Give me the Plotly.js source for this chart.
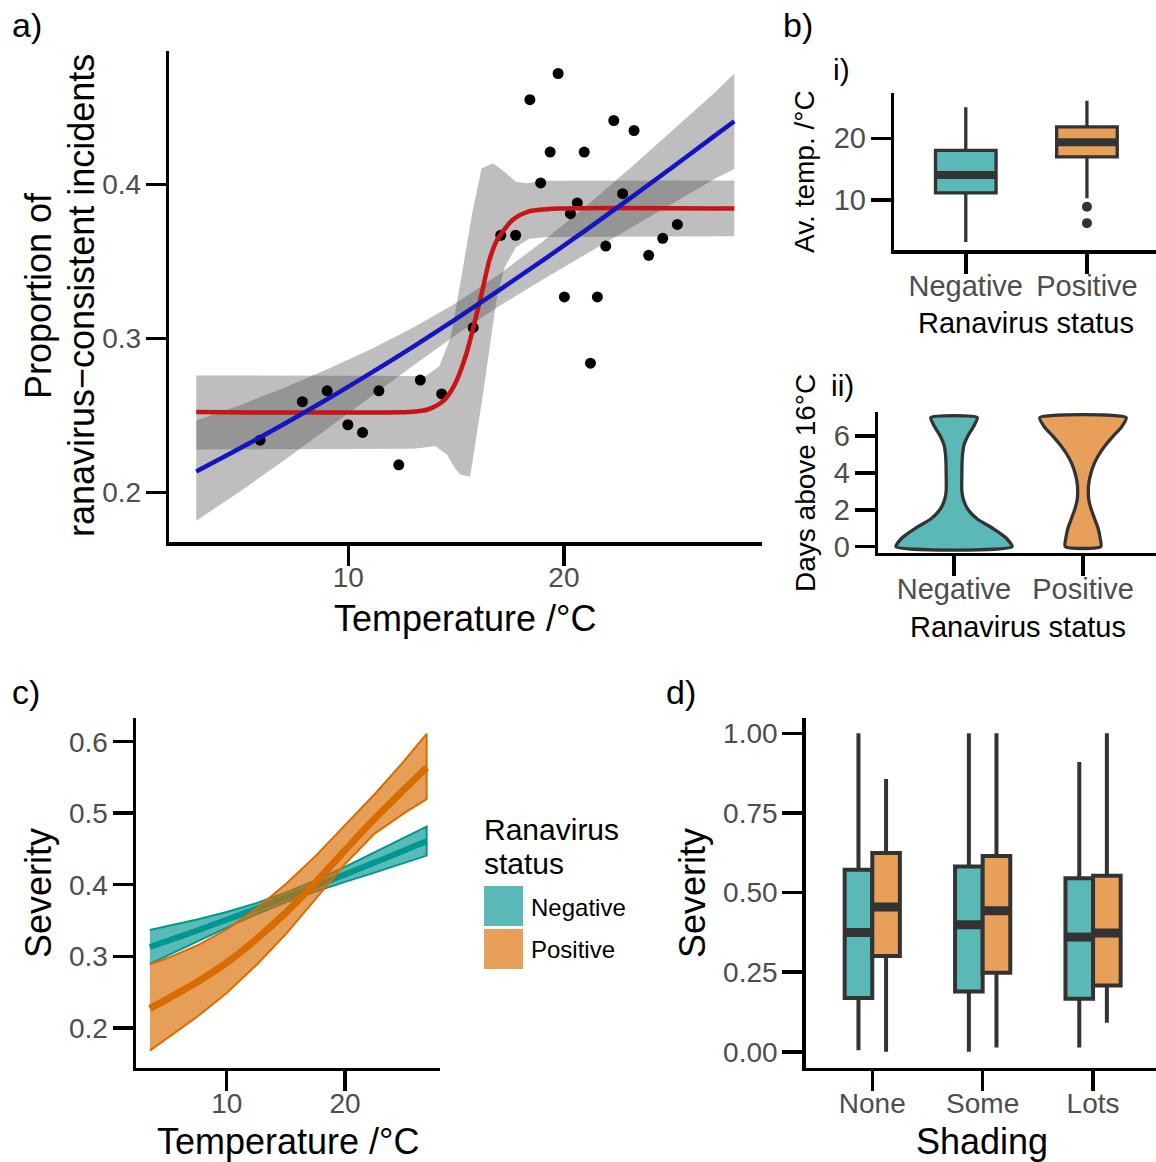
<!DOCTYPE html>
<html>
<head>
<meta charset="utf-8">
<script src="https://cdn.plot.ly/plotly-3.0.1.min.js"></script>
<style>html,body{margin:0;padding:0;background:#fff;}#chart{width:1156px;height:1162px;}</style>
</head>
<body>
<div id="chart"></div>
<script>
// ---------------- DATA ----------------
// a) observed proportions
const tempObs = [5.91, 7.87, 9.02, 9.98, 10.66, 11.42, 12.34, 13.34, 14.33, 15.79, 17.07, 17.76, 18.42, 19.73, 19.36, 18.92, 20.62, 20.30, 20.94, 22.31, 23.25, 22.72, 21.94, 20.02, 21.55, 21.23, 23.93, 24.58, 25.26];
const propObs = [0.234, 0.259, 0.266, 0.244, 0.239, 0.266, 0.218, 0.273, 0.264, 0.307, 0.367, 0.367, 0.455, 0.472, 0.421, 0.401, 0.388, 0.381, 0.421, 0.4415, 0.435, 0.394, 0.360, 0.327, 0.327, 0.284, 0.354, 0.365, 0.374];
// a) linear (logistic) fit
const fitX = [2.95, 5, 7, 9, 11, 13, 15, 17, 19, 21, 23, 25, 27, 27.9];
const linFit = [0.2137, 0.2289, 0.2443, 0.2604, 0.2772, 0.2946, 0.3127, 0.3314, 0.3505, 0.3702, 0.3903, 0.4108, 0.4317, 0.4410];
const linUpper = [0.2467, 0.2569, 0.2679, 0.2798, 0.2927, 0.3069, 0.3230, 0.3417, 0.3628, 0.3857, 0.4097, 0.4344, 0.4597, 0.4720];
const linLower = [0.1817, 0.2009, 0.2207, 0.2410, 0.2617, 0.2823, 0.3024, 0.3211, 0.3382, 0.3547, 0.3709, 0.3872, 0.4037, 0.4100];
// a) step (threshold) fit
const stepX = [2.95, 13.0, 13.69, 14.40, 14.94, 15.47, 15.79, 16.18, 16.54, 16.89, 17.60, 18.31, 19.73, 27.9];
const stepFit = [0.2522, 0.2525, 0.2539, 0.2593, 0.2702, 0.2898, 0.3067, 0.3289, 0.3507, 0.3637, 0.3767, 0.3822, 0.3843, 0.3843];
const stepUpX = [2.95, 13.6, 14.23, 14.76, 15.29, 15.74, 16.18, 16.71, 17.25, 17.78, 18.3, 19.0, 27.9];
const stepUp = [0.2760, 0.2757, 0.2822, 0.3015, 0.3435, 0.3810, 0.4104, 0.4137, 0.4080, 0.4017, 0.4007, 0.4024, 0.4025];
const stepLoX = [2.95, 13.0, 14.05, 14.58, 14.94, 15.2, 15.65, 15.9, 16.27, 16.54, 16.89, 17.25, 17.78, 18.4, 19.2, 27.9];
const stepLo = [0.2280, 0.2285, 0.2300, 0.2246, 0.2160, 0.2115, 0.2104, 0.2330, 0.2660, 0.2920, 0.3267, 0.3463, 0.3593, 0.3648, 0.3659, 0.3663];

// b) categories
const statusCats = ['Negative', 'Positive'];
// b-i) average temperature boxes
const tempQ1 = [11.15, 17.0];
const tempMed = [14.05, 19.35];
const tempQ3 = [18.05, 21.85];
const tempLo = [3.2, 10.3];
const tempHi = [25.05, 26.1];
const tempOutCat = ['Positive', 'Positive'];
const tempOut = [8.9, 6.25];
// b-ii) days above 16 C violins (density half-widths)
const daysY = [0, 0.5, 1, 1.5, 2, 2.5, 3, 3.5, 4, 4.5, 5, 5.5, 6, 6.5, 7];
const daysNegDens = [0.45, 0.40, 0.30, 0.18, 0.11, 0.075, 0.061, 0.060, 0.061, 0.062, 0.066, 0.077, 0.107, 0.15, 0.18];
const daysPosDens = [0.138, 0.132, 0.117, 0.091, 0.065, 0.046, 0.041, 0.046, 0.062, 0.087, 0.124, 0.174, 0.234, 0.30, 0.335];

// c) severity vs temperature
const sevTemp = [3.5, 5, 7.5, 10, 12.5, 15, 17.5, 20, 22.5, 25, 26.9];
const negFit = [0.3130, 0.3215, 0.3360, 0.3510, 0.3665, 0.3822, 0.3982, 0.4145, 0.4310, 0.4478, 0.4610];
const negUpper = [0.3367, 0.3420, 0.3515, 0.3620, 0.3743, 0.3890, 0.4060, 0.4250, 0.4450, 0.4656, 0.4813];
const negLower = [0.2893, 0.3010, 0.3205, 0.3400, 0.3587, 0.3754, 0.3904, 0.4040, 0.4170, 0.4300, 0.4407];
const posFit = [0.2270, 0.2405, 0.2640, 0.2910, 0.3240, 0.3610, 0.4030, 0.4480, 0.4925, 0.5330, 0.5640];
const posUpper = [0.2886, 0.2975, 0.3150, 0.3375, 0.3665, 0.4010, 0.4400, 0.4825, 0.5265, 0.5730, 0.6110];
const posLower = [0.1680, 0.1855, 0.2155, 0.2485, 0.2875, 0.3310, 0.3800, 0.4290, 0.4715, 0.5000, 0.5196];

// d) severity by shading
const shadeCats = ['None', 'Some', 'Lots'];
const negQ1 = [0.1686, 0.1895, 0.1665];
const negMed = [0.3743, 0.3990, 0.3602];
const negQ3 = [0.5717, 0.5820, 0.5445];
const negLo = [0.005, 0.000, 0.0136];
const negHi = [1.000, 1.000, 0.910];
const posQ1 = [0.3005, 0.2482, 0.2084];
const posMed = [0.4545, 0.4429, 0.3728];
const posQ3 = [0.6240, 0.6147, 0.5529];
const posLo = [0.000, 0.0136, 0.091];
const posHi = [0.8565, 1.000, 1.000];

// ---------------- STYLE ----------------
const W = 1156, H = 1162;
const FONT = 'Liberation Sans, Arial, Helvetica, sans-serif';
const TEAL_FILL = '#5ab9b6', ORANGE_FILL = '#e89f5a';
const TEAL = 'rgb(0,150,145)', ORANGE = 'rgb(217,108,0)';
const DARK = '#333333';
const px = v => v / W;
const py = v => 1 - v / H;

function ax(o, isX, fs) {
  return Object.assign({
    showline: true, linecolor: 'black', linewidth: 3.5,
    ticks: 'outside', ticklen: 20, tickwidth: 3.5, tickcolor: 'black',
    showgrid: false, zeroline: false, fixedrange: true,
    tickfont: {family: FONT, size: fs || 28, color: '#4d4d4d'},
    ticklabelstandoff: isX ? -12 : -1
  }, o);
}

const traces = [];
function ribbon(xu, yu, xl, yl, fill, xa, ya, lineColor, lw) {
  traces.push({
    type: 'scatter', mode: 'lines',
    x: xu.concat(xl.slice().reverse()), y: yu.concat(yl.slice().reverse()),
    fill: 'toself', fillcolor: fill,
    line: {width: lw || 0, color: lineColor || 'rgba(0,0,0,0)'},
    xaxis: xa, yaxis: ya, hoverinfo: 'skip', showlegend: false
  });
}

// ----- panel a -----
ribbon(fitX, linUpper, fitX, linLower, 'rgba(80,80,80,0.37)', 'x', 'y');
ribbon(stepUpX, stepUp, stepLoX, stepLo, 'rgba(80,80,80,0.37)', 'x', 'y');
traces.push({type: 'scatter', mode: 'markers', x: tempObs, y: propObs,
  marker: {size: 11, color: 'black'}, xaxis: 'x', yaxis: 'y', showlegend: false});
traces.push({type: 'scatter', mode: 'lines', x: stepX, y: stepFit,
  line: {color: '#c81414', width: 4.5, shape: 'spline', smoothing: 0.7}, xaxis: 'x', yaxis: 'y', showlegend: false});
traces.push({type: 'scatter', mode: 'lines', x: fitX, y: linFit,
  line: {color: '#1414c0', width: 4.5, shape: 'spline'}, xaxis: 'x', yaxis: 'y', showlegend: false});

// ----- panel b-i -----
const bFills = [TEAL_FILL, ORANGE_FILL];
statusCats.forEach((c, i) => {
  traces.push({type: 'box', x: [i], q1: [tempQ1[i]], median: [tempMed[i]], q3: [tempQ3[i]],
    lowerfence: [tempLo[i]], upperfence: [tempHi[i]], width: 0.5, whiskerwidth: 0,
    fillcolor: bFills[i], line: {color: DARK, width: 3.3}, boxpoints: false,
    xaxis: 'x2', yaxis: 'y2', showlegend: false, hoverinfo: 'skip'});
  traces.push({type: 'scatter', mode: 'lines', x: [i - 0.25, i + 0.25], y: [tempMed[i], tempMed[i]],
    line: {color: DARK, width: 8}, xaxis: 'x2', yaxis: 'y2', showlegend: false});
});
traces.push({type: 'scatter', mode: 'markers', x: tempOutCat.map(c => statusCats.indexOf(c)), y: tempOut,
  marker: {size: 10, color: DARK}, xaxis: 'x2', yaxis: 'y2', showlegend: false});

// ----- panel b-ii -----
[daysNegDens, daysPosDens].forEach((dens, i) => {
  const xs = daysY.map((y, k) => i + dens[k]).concat(daysY.map((y, k) => i - dens[k]).reverse());
  const ys = daysY.concat(daysY.slice().reverse());
  xs.push(xs[0]); ys.push(ys[0]);
  traces.push({type: 'scatter', mode: 'lines', x: xs, y: ys, fill: 'toself', fillcolor: bFills[i],
    line: {color: DARK, width: 3.3, shape: 'spline', smoothing: 0.6},
    xaxis: 'x3', yaxis: 'y3', showlegend: false, hoverinfo: 'skip'});
});

// ----- panel c -----
ribbon(sevTemp, negUpper, sevTemp, negLower, 'rgba(0,150,145,0.65)', 'x4', 'y4', TEAL, 2);
traces.push({type: 'scatter', mode: 'lines', x: sevTemp, y: negFit,
  line: {color: TEAL, width: 6, shape: 'spline'}, xaxis: 'x4', yaxis: 'y4', showlegend: false});
ribbon(sevTemp, posUpper, sevTemp, posLower, 'rgba(217,108,0,0.65)', 'x4', 'y4', ORANGE, 2);
traces.push({type: 'scatter', mode: 'lines', x: sevTemp, y: posFit,
  line: {color: ORANGE, width: 7, shape: 'spline'}, xaxis: 'x4', yaxis: 'y4', showlegend: false});

// ----- panel d -----
const dodge = 0.125, bw = 0.25;
[[negQ1, negMed, negQ3, negLo, negHi, -dodge, TEAL_FILL], [posQ1, posMed, posQ3, posLo, posHi, dodge, ORANGE_FILL]]
  .forEach(([q1, md, q3, lo, hi, off, fc]) => {
    const xs = shadeCats.map((c, i) => i + off);
    traces.push({type: 'box', x: xs, q1: q1, median: md, q3: q3, lowerfence: lo, upperfence: hi,
      width: bw, whiskerwidth: 0, fillcolor: fc, line: {color: DARK, width: 4}, boxpoints: false,
      xaxis: 'x5', yaxis: 'y5', showlegend: false, hoverinfo: 'skip'});
    const mx = [], my = [];
    xs.forEach((x, i) => { mx.push(x - bw / 2, x + bw / 2, null); my.push(md[i], md[i], null); });
    traces.push({type: 'scatter', mode: 'lines', x: mx, y: my, line: {color: DARK, width: 9},
      xaxis: 'x5', yaxis: 'y5', showlegend: false, connectgaps: false});
  });

// ---------------- ANNOTATIONS ----------------
function ann(text, x, y, size, o) {
  return Object.assign({text: text, x: px(x), y: py(y), xref: 'paper', yref: 'paper',
    xanchor: 'center', yanchor: 'middle', showarrow: false,
    font: {family: FONT, size: size, color: 'black'}}, o || {});
}
const annotations = [
  ann('a)', 10, 25, 34, {xanchor: 'left'}),
  ann('b)', 781, 25, 34, {xanchor: 'left'}),
  ann('c)', 10, 692, 34, {xanchor: 'left'}),
  ann('d)', 664, 692, 34, {xanchor: 'left'}),
  ann('i)', 831, 70, 30, {xanchor: 'left'}),
  ann('ii)', 829, 386, 30, {xanchor: 'left'}),
  // panel a titles
  ann('Temperature /°C', 465, 618, 36),
  ann('Proportion of', 38, 296, 36, {textangle: -90}),
  ann('ranavirus−consistent incidents', 81, 296, 36, {textangle: -90}),
  // panel b titles
  ann('Av. temp. /°C', 805, 172, 28, {textangle: -90}),
  ann('Ranavirus status', 1026, 323, 29),
  ann('Days above 16°C', 805, 483, 28, {textangle: -90}),
  ann('Ranavirus status', 1018, 627, 29),
  // panel c titles
  ann('Severity', 38, 893, 36, {textangle: -90}),
  ann('Temperature /°C', 288, 1141, 36),
  // legend
  ann('Ranavirus', 482, 829, 30, {xanchor: 'left'}),
  ann('status', 482, 863, 30, {xanchor: 'left'}),
  ann(statusCats[0], 529, 907, 24, {xanchor: 'left'}),
  ann(statusCats[1], 529, 949, 24, {xanchor: 'left'}),
  // panel d titles
  ann('Severity', 692, 893, 36, {textangle: -90}),
  ann('Shading', 982, 1141, 36)
];
const shapes = [
  {type: 'rect', xref: 'paper', yref: 'paper', x0: px(484), x1: px(523), y0: py(926), y1: py(886),
    fillcolor: TEAL_FILL, line: {width: 0}},
  {type: 'rect', xref: 'paper', yref: 'paper', x0: px(484), x1: px(523), y0: py(969), y1: py(929),
    fillcolor: ORANGE_FILL, line: {width: 0}}
];

const layout = {
  width: W, height: H, margin: {l: 0, r: 0, t: 0, b: 0},
  paper_bgcolor: 'white', plot_bgcolor: 'white', showlegend: false, hovermode: false,
  font: {family: FONT},
  xaxis: ax({domain: [px(169.3), px(761.7)], range: [1.7, 29.17], tickvals: [10, 20], ticktext: ['10', '20'], anchor: 'y'}, true),
  yaxis: ax({domain: [py(542.3), py(50.7)], range: [0.1677, 0.4868], tickvals: [0.2, 0.3, 0.4], ticktext: ['0.2', '0.3', '0.4'], anchor: 'x'}, false),
  xaxis2: ax({domain: [px(894.3), 1], range: [-0.59, 1.57], tickvals: [0, 1], ticktext: statusCats, anchor: 'y2'}, true, 29),
  yaxis2: ax({domain: [py(250), py(93.3)], range: [1.9, 27.3], tickvals: [10, 20], ticktext: ['10', '20'], anchor: 'x2'}, false, 29),
  xaxis3: ax({domain: [px(878.3), 1], range: [-0.587, 1.566], tickvals: [0, 1], ticktext: statusCats, anchor: 'y3'}, true, 29),
  yaxis3: ax({domain: [py(552.7), py(411.7)], range: [-0.325, 7.32], tickvals: [0, 2, 4, 6], ticktext: ['0', '2', '4', '6'], anchor: 'x3'}, false, 29),
  xaxis4: ax({domain: [px(136), px(440)], range: [2.33, 28.03], tickvals: [10, 20], ticktext: ['10', '20'], anchor: 'y4'}, true),
  yaxis4: ax({domain: [py(1067.7), py(718.3)], range: [0.1442, 0.6327], tickvals: [0.2, 0.3, 0.4, 0.5, 0.6], ticktext: ['0.2', '0.3', '0.4', '0.5', '0.6'], anchor: 'x4'}, false),
  xaxis5: ax({domain: [px(805.7), 1], range: [-0.603, 2.57], tickvals: [0, 1, 2], ticktext: shadeCats, anchor: 'y5'}, true),
  yaxis5: ax({domain: [py(1067.7), py(718.3)], range: [-0.05, 1.047], tickvals: [0, 0.25, 0.5, 0.75, 1], ticktext: ['0.00', '0.25', '0.50', '0.75', '1.00'], anchor: 'x5'}, false),
  annotations: annotations,
  shapes: shapes
};

Plotly.newPlot('chart', traces, layout, {staticPlot: true, displayModeBar: false});
</script>
</body>
</html>
